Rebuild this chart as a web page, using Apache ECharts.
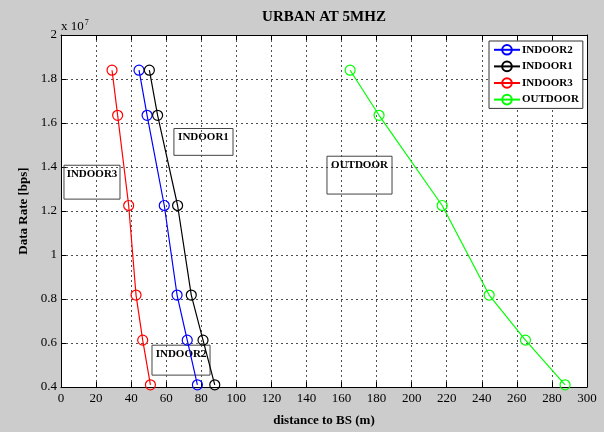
<!DOCTYPE html>
<html>
<head>
<meta charset="utf-8">
<script src="https://cdn.jsdelivr.net/npm/echarts@6/dist/echarts.min.js"></script>
<style>
  html, body { margin: 0; padding: 0; background: #fff; }
  #chart { width: 604px; height: 432px; }
</style>
</head>
<body>
<div id="chart"></div>
<script>
// distance to BS (m) for each scenario
const distIndoor2 = [44.5, 49.1, 58.9, 66.2, 72.0, 77.8];
const distIndoor1 = [50.4, 55.1, 66.5, 74.3, 81.0, 87.7];
const distIndoor3 = [29.1, 32.3, 38.6, 42.8, 46.6, 51.0];
const distOutdoor = [164.9, 181.4, 217.4, 244.2, 264.9, 287.5];

// data rate (bps), shared by all scenarios
const dataRate = [18400000, 16350000, 12250000, 8180000, 6130000, 4100000];

const seriesNames = ['INDOOR2', 'INDOOR1', 'INDOOR3', 'OUTDOOR'];
const seriesColors = ['#0000ff', '#000000', '#ff0000', '#00ff00'];

// text boxes: [label, x0, y0, x1, y1] in data units
const notes = [
    ['INDOOR1', 64.4, 15750000, 98.1, 14530000],
    ['INDOOR3', 1.7, 14080000, 33.65, 12540000],
    ['OUTDOOR', 151.7, 14490000, 188.8, 12770000],
    ['INDOOR2', 51.9, 5900000, 85.0, 4540000]
];

const SERIF = '"Liberation Serif", "DejaVu Serif", serif';

function pairs(xs) {
    return xs.map((x, i) => [x, dataRate[i]]);
}

const chartDom = document.getElementById('chart');
const myChart = echarts.init(chartDom, null, { renderer: 'canvas' });

const tickStyle = { inside: true, length: 5, lineStyle: { color: '#000', width: 1 } };
const gridLine = { show: true, lineStyle: { color: '#222', type: [2, 3], width: 0.8 } };

const allX = [distIndoor2, distIndoor1, distIndoor3, distOutdoor];

const option = {
    backgroundColor: '#cccccc',
    animation: false,
    grid: { left: 61, right: 17, top: 35, bottom: 43, show: true, backgroundColor: '#fff', borderWidth: 0 },
    graphic: [
        {
            type: 'text',
            x: 324, y: 17,
            style: {
                text: 'URBAN AT 5MHZ',
                font: 'bold 15px ' + SERIF,
                fill: '#000',
                textAlign: 'center',
                textVerticalAlign: 'middle'
            }
        },
        {
            type: 'text',
            x: 61, y: 27,
            style: {
                text: '{a|x 10}{b|7}',
                textVerticalAlign: 'middle',
                rich: {
                    a: { fontFamily: SERIF, fontSize: 13, color: '#000' },
                    b: { fontFamily: SERIF, fontSize: 8, color: '#000', padding: [0, 0, 9, 1] }
                }
            }
        }
    ],
    legend: {
        data: seriesNames,
        orient: 'vertical',
        left: 489,
        top: 41,
        itemWidth: 26,
        itemHeight: 12,
        itemGap: 5,
        padding: [3, 4],
        backgroundColor: '#fff',
        borderColor: '#333',
        borderWidth: 1,
        borderRadius: 0,
        selectedMode: false,
        textStyle: { fontFamily: SERIF, fontWeight: 'bold', fontSize: 11, color: '#000', padding: [0, 0, 0, -3] }
    },
    xAxis: [
        {
            type: 'value',
            min: 0, max: 300, interval: 20,
            name: 'distance to BS (m)',
            nameLocation: 'middle',
            nameGap: 27,
            nameTextStyle: { fontFamily: SERIF, fontWeight: 'bold', fontSize: 13, color: '#000' },
            axisLine: { show: true, onZero: false, lineStyle: { color: '#000', width: 1 } },
            axisTick: tickStyle,
            axisLabel: { fontFamily: SERIF, fontSize: 13, color: '#000', margin: 5 },
            splitLine: gridLine
        },
        {
            type: 'value',
            position: 'top',
            min: 0, max: 300, interval: 20,
            axisLine: { show: true, onZero: false, lineStyle: { color: '#000', width: 1 } },
            axisTick: tickStyle,
            axisLabel: { show: false },
            splitLine: { show: false }
        }
    ],
    yAxis: [
        {
            type: 'value',
            min: 4000000, max: 20000000, interval: 2000000,
            name: 'Data Rate [bps]',
            nameLocation: 'middle',
            nameGap: 25,
            nameTextStyle: { fontFamily: SERIF, fontWeight: 'bold', fontSize: 13, color: '#000' },
            axisLine: { show: true, onZero: false, lineStyle: { color: '#000', width: 1 } },
            axisTick: tickStyle,
            axisLabel: {
                fontFamily: SERIF, fontSize: 13, color: '#000', margin: 4,
                formatter: v => String(+(v / 1e7).toFixed(1))
            },
            splitLine: gridLine
        },
        {
            type: 'value',
            position: 'right',
            min: 4000000, max: 20000000, interval: 2000000,
            axisLine: { show: true, onZero: false, lineStyle: { color: '#000', width: 1 } },
            axisTick: tickStyle,
            axisLabel: { show: false },
            splitLine: { show: false }
        }
    ],
    series: seriesNames.map((name, i) => {
        const s = {
            name: name,
            type: 'line',
            xAxisIndex: 0,
            yAxisIndex: 0,
            data: pairs(allX[i]),
            symbol: 'circle',
            symbolSize: 10,
            color: seriesColors[i],
            lineStyle: { color: seriesColors[i], width: 1.2 },
            itemStyle: { color: 'rgba(0,0,0,0)', borderColor: seriesColors[i], borderWidth: 1.2 },
            emphasis: { disabled: true }
        };
        if (i === 0) {
            s.markArea = {
                silent: true,
                itemStyle: { color: 'rgba(0,0,0,0)', borderColor: '#444', borderWidth: 1 },
                label: {
                    show: true,
                    position: 'insideTop',
                    distance: 4,
                    fontFamily: SERIF,
                    fontWeight: 'bold',
                    fontSize: 11,
                    color: '#000'
                },
                data: notes.map(n => [
                    { name: n[0], coord: [n[1], n[2]] },
                    { coord: [n[3], n[4]] }
                ])
            };
        }
        return s;
    })
};

myChart.setOption(option);
</script>
</body>
</html>
